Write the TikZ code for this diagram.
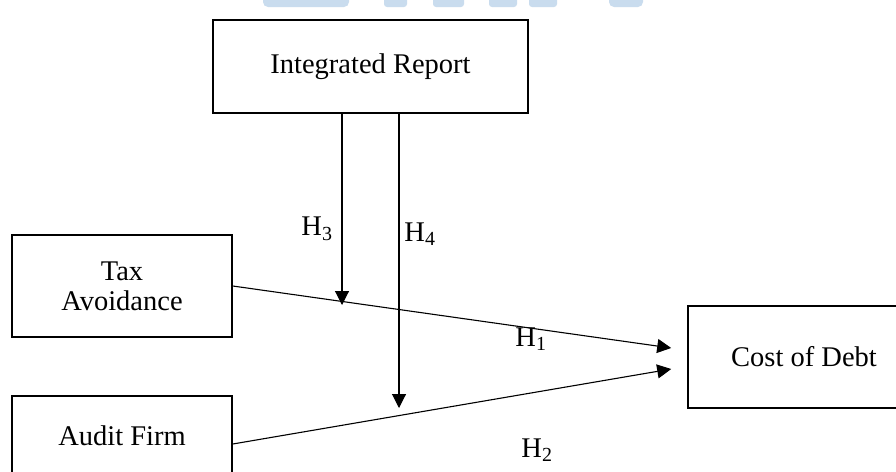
\documentclass[tikz,border=0pt]{standalone}
\usepackage{fontspec}
\setmainfont{Liberation Serif}
\usetikzlibrary{arrows.meta}
\definecolor{wmblue}{HTML}{C9DCEE}
\tikzset{
  box/.style={draw=black, line width=1.6pt, rectangle, inner sep=0pt, align=center,
              font=\fontsize{28.5}{30}\selectfont},
  link/.style={draw=black, line width=1.1pt},
  arrowlink/.style={link, -{Triangle[length=14pt,width=14pt]}},
  hlabel/.style={inner sep=0pt, font=\fontsize{28.5}{30}\selectfont}
}
\begin{document}
\begin{tikzpicture}[x=1pt,y=-1pt]
\useasboundingbox (0,0) rectangle (896,471);
\clip (0,0) rectangle (896,471);
\fill[white] (0,0) rectangle (896,471);
% faint watermark fragments at the top edge
\fill[wmblue, rounded corners=5pt] (263,-12) rectangle (349,7);
\fill[wmblue, rounded corners=3pt] (384,-12) rectangle (407,7);
\fill[wmblue, rounded corners=3pt] (433,-12) rectangle (464,7);
\fill[wmblue, rounded corners=3pt] (489,-12) rectangle (517,7);
\fill[wmblue, rounded corners=3pt] (529,-12) rectangle (557,7);
\fill[wmblue, rounded corners=5pt] (609,-12) rectangle (643,7);

\node[box, minimum width=315pt, minimum height=93pt] (ir) at (370.5,66.5) {Integrated Report};
\node[box, minimum width=220pt, minimum height=102pt] (tax) at (122,286) {Tax\\Avoidance};
\node[box, minimum width=220pt, minimum height=79pt] (audit) at (122,435.5) {Audit Firm};
\node[box, minimum width=232pt, minimum height=102pt] (cod) at (804,357) {Cost of Debt};

\coordinate (h1end) at ([xshift=-16pt,yshift=9pt]cod.west);
\coordinate (h2end) at ([xshift=-16pt,yshift=-12pt]cod.west);
\coordinate (auditout) at ([yshift=-8.5pt]audit.east);
\coordinate (h3start) at ([xshift=-28.5pt]ir.south);
\coordinate (h4start) at ([xshift=28.5pt]ir.south);
\coordinate (h3end) at (342,305);
\coordinate (h4end) at (399,408);

\draw[arrowlink] (tax.east) -- (h1end);
\draw[arrowlink] (auditout) -- (h2end);
\draw[arrowlink] (h3start) -- (h3end);
\draw[arrowlink] (h4start) -- (h4end);

\node[hlabel] (lh3) at (317,229) {H\textsubscript{3}};
\node[hlabel] (lh4) at (420,234) {H\textsubscript{4}};
\node[hlabel] (lh1) at (531,339) {H\textsubscript{1}};
\node[hlabel] (lh2) at (537,450) {H\textsubscript{2}};
\end{tikzpicture}
\end{document}
